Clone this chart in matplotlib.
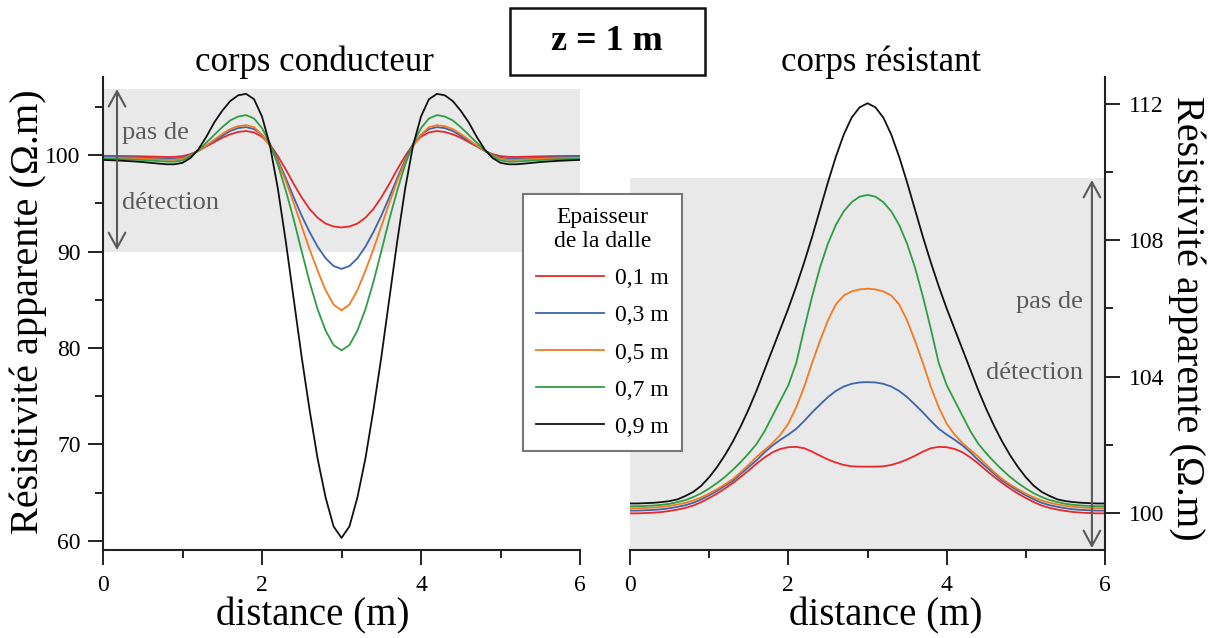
import numpy as np
import matplotlib
matplotlib.use("Agg")
import matplotlib.pyplot as plt
from matplotlib.patches import Rectangle
from matplotlib.ticker import MultipleLocator

plt.rcParams['font.family'] = ['Liberation Serif', 'DejaVu Serif']

# ---------------- data ----------------
distance = np.linspace(0, 6, 61)
labels = ["0,1 m", "0,3 m", "0,5 m", "0,7 m", "0,9 m"]
colors = ["#e8282b", "#3d64ad", "#f47a20", "#2e9e44", "#111111"]

cond_01 = [99.92, 99.92, 99.91, 99.90, 99.89, 99.87, 99.85, 99.83, 99.81, 99.82,
           99.90, 100.10, 100.45, 100.90, 101.35, 101.80, 102.15, 102.40, 102.50, 102.35,
           101.90, 101.10, 99.90, 98.50, 97.00, 95.60, 94.40, 93.50, 92.90, 92.60,
           92.50,
           92.60, 92.90, 93.50, 94.40, 95.60, 97.00, 98.50, 99.90, 101.10, 101.90,
           102.35, 102.50, 102.40, 102.15, 101.80, 101.35, 100.90, 100.45, 100.10, 99.90,
           99.82, 99.81, 99.83, 99.85, 99.87, 99.89, 99.90, 99.91, 99.92, 99.92]
cond_03 = [99.80, 99.79, 99.78, 99.77, 99.75, 99.73, 99.70, 99.67, 99.64, 99.64,
           99.74, 100.02, 100.45, 100.95, 101.50, 102.00, 102.50, 102.80, 102.90, 102.70,
           102.10, 101.10, 99.50, 97.60, 95.60, 93.70, 92.00, 90.50, 89.30, 88.50,
           88.20,
           88.50, 89.30, 90.50, 92.00, 93.70, 95.60, 97.60, 99.50, 101.10, 102.10,
           102.70, 102.90, 102.80, 102.50, 102.00, 101.50, 100.95, 100.45, 100.02, 99.74,
           99.64, 99.64, 99.67, 99.70, 99.73, 99.75, 99.77, 99.78, 99.79, 99.80]
cond_05 = [99.72, 99.71, 99.70, 99.68, 99.66, 99.63, 99.59, 99.55, 99.51, 99.51,
           99.62, 99.97, 100.45, 101.00, 101.60, 102.20, 102.70, 103.00, 103.10, 102.90,
           102.10, 100.90, 99.30, 97.30, 95.00, 92.60, 90.20, 88.00, 86.00, 84.50,
           83.90,
           84.50, 86.00, 88.00, 90.20, 92.60, 95.00, 97.30, 99.30, 100.90, 102.10,
           102.90, 103.10, 103.00, 102.70, 102.20, 101.60, 101.00, 100.45, 99.97, 99.62,
           99.51, 99.51, 99.55, 99.59, 99.63, 99.66, 99.68, 99.70, 99.71, 99.72]
cond_07 = [99.62, 99.60, 99.58, 99.56, 99.53, 99.49, 99.44, 99.38, 99.33, 99.32,
           99.45, 99.88, 100.50, 101.30, 102.10, 102.90, 103.60, 104.00, 104.15, 103.80,
           102.80, 101.20, 99.00, 96.30, 93.30, 90.00, 86.80, 84.00, 81.80, 80.30,
           79.75,
           80.30, 81.80, 84.00, 86.80, 90.00, 93.30, 96.30, 99.00, 101.20, 102.80,
           103.80, 104.15, 104.00, 103.60, 102.90, 102.10, 101.30, 100.50, 99.88, 99.45,
           99.32, 99.33, 99.38, 99.44, 99.49, 99.53, 99.56, 99.58, 99.60, 99.62]
cond_09 = [99.50, 99.47, 99.43, 99.39, 99.34, 99.28, 99.20, 99.12, 99.05, 99.05,
           99.20, 99.70, 100.60, 101.90, 103.40, 104.60, 105.60, 106.20, 106.35, 105.80,
           104.00, 101.00, 96.50, 91.00, 85.00, 79.00, 73.50, 68.50, 64.50, 61.50,
           60.30,
           61.50, 64.50, 68.50, 73.50, 79.00, 85.00, 91.00, 96.50, 101.00, 104.00,
           105.80, 106.35, 106.20, 105.60, 104.60, 103.40, 101.90, 100.60, 99.70, 99.20,
           99.05, 99.05, 99.12, 99.20, 99.28, 99.34, 99.39, 99.43, 99.47, 99.50]

res_01 = [99.99, 99.99, 100.00, 100.01, 100.03, 100.06, 100.10, 100.15, 100.22, 100.32,
          100.44, 100.57, 100.72, 100.88, 101.06, 101.25, 101.45, 101.63, 101.78, 101.88,
          101.93, 101.94, 101.90, 101.80, 101.68, 101.57, 101.48, 101.41, 101.37, 101.36,
          101.36,
          101.36, 101.37, 101.41, 101.48, 101.57, 101.68, 101.80, 101.90, 101.94, 101.93,
          101.88, 101.78, 101.63, 101.45, 101.25, 101.06, 100.88, 100.72, 100.57, 100.44,
          100.32, 100.22, 100.15, 100.10, 100.06, 100.03, 100.01, 100.00, 99.99, 99.99]
res_03 = [100.07, 100.07, 100.08, 100.09, 100.11, 100.14, 100.18, 100.23, 100.30, 100.40,
          100.52, 100.65, 100.80, 100.95, 101.15, 101.35, 101.55, 101.78, 101.98, 102.15,
          102.30, 102.47, 102.70, 102.95, 103.18, 103.40, 103.58, 103.71, 103.79, 103.83,
          103.84,
          103.83, 103.79, 103.71, 103.58, 103.40, 103.18, 102.95, 102.70, 102.47, 102.30,
          102.15, 101.98, 101.78, 101.55, 101.35, 101.15, 100.95, 100.80, 100.65, 100.52,
          100.40, 100.30, 100.23, 100.18, 100.14, 100.11, 100.09, 100.08, 100.07, 100.07]
res_05 = [100.14, 100.14, 100.15, 100.16, 100.18, 100.21, 100.25, 100.30, 100.37, 100.46,
          100.57, 100.70, 100.84, 101.00, 101.20, 101.42, 101.65, 101.85, 102.05, 102.30,
          102.62, 103.10, 103.70, 104.40, 105.05, 105.65, 106.12, 106.38, 106.50, 106.56,
          106.58,
          106.56, 106.50, 106.38, 106.12, 105.65, 105.05, 104.40, 103.70, 103.10, 102.62,
          102.30, 102.05, 101.85, 101.65, 101.42, 101.20, 101.00, 100.84, 100.70, 100.57,
          100.46, 100.37, 100.30, 100.25, 100.21, 100.18, 100.16, 100.15, 100.14, 100.14]
res_07 = [100.20, 100.20, 100.21, 100.22, 100.24, 100.27, 100.32, 100.38, 100.47, 100.58,
          100.72, 100.88, 101.06, 101.27, 101.50, 101.75, 102.03, 102.40, 102.85, 103.30,
          103.75, 104.40, 105.40, 106.35, 107.20, 107.90, 108.45, 108.85, 109.12, 109.28,
          109.33,
          109.28, 109.12, 108.85, 108.45, 107.90, 107.20, 106.35, 105.40, 104.40, 103.75,
          103.30, 102.85, 102.40, 102.03, 101.75, 101.50, 101.27, 101.06, 100.88, 100.72,
          100.58, 100.47, 100.38, 100.32, 100.27, 100.24, 100.22, 100.21, 100.20, 100.20]
res_09 = [100.28, 100.28, 100.29, 100.30, 100.32, 100.35, 100.40, 100.50, 100.62, 100.80,
          101.05, 101.35, 101.70, 102.10, 102.55, 103.05, 103.60, 104.20, 104.80, 105.40,
          106.00, 106.65, 107.35, 108.10, 108.90, 109.70, 110.45, 111.10, 111.60, 111.90,
          112.02,
          111.90, 111.60, 111.10, 110.45, 109.70, 108.90, 108.10, 107.35, 106.65, 106.00,
          105.40, 104.80, 104.20, 103.60, 103.05, 102.55, 102.10, 101.70, 101.35, 101.05,
          100.80, 100.62, 100.50, 100.40, 100.35, 100.32, 100.30, 100.29, 100.28, 100.28]

cond_series = [cond_01, cond_03, cond_05, cond_07, cond_09]
res_series = [res_01, res_03, res_05, res_07, res_09]

# ---------------- figure ----------------
W, H = 1212, 638
fig = plt.figure(figsize=(W / 100, H / 100), dpi=100)

def fx(px):
    return px / W

def fy(py):
    return 1 - py / H

axL = fig.add_axes([fx(103), fy(550), fx(580) - fx(103), fy(77) - fy(550)])
axR = fig.add_axes([fx(630), fy(550), fx(1105) - fx(630), fy(77) - fy(550)])

band = "#e9e9e9"
grey = "#5a5a5a"
lw = 1.3

# left panel
axL.set_xlim(0, 6)
axL.set_ylim(59.05, 108.1)
axL.axhspan(90, 106.9, color=band, zorder=0, lw=0)
handles = []
for s, c, lab in zip(cond_series, colors, labels):
    h, = axL.plot(distance, s, color=c, lw=lw, label=lab, solid_joinstyle='round')
    handles.append(h)

# right panel
axR.set_xlim(0, 6)
axR.set_ylim(98.915, 112.79)
axR.axhspan(98.0, 109.83, color=band, zorder=0, lw=0)
for s, c in zip(res_series, colors):
    axR.plot(distance, s, color=c, lw=lw, solid_joinstyle='round')

for ax in (axL, axR):
    ax.set_facecolor("none")
    ax.spines['top'].set_visible(False)
    ax.xaxis.set_major_locator(MultipleLocator(2))
    ax.xaxis.set_minor_locator(MultipleLocator(1))
    ax.tick_params(axis='both', which='major', direction='out', length=11, width=1.4,
                   labelsize=17, color='#222222')
    ax.tick_params(axis='both', which='minor', direction='out', length=5.5, width=1.4,
                   color='#222222')
    ax.tick_params(axis='x', which='major', pad=7)
    for sp in ax.spines.values():
        sp.set_linewidth(1.5)
        sp.set_color('#222222')

axL.spines['right'].set_visible(False)
axL.yaxis.set_major_locator(MultipleLocator(10))
axL.yaxis.set_minor_locator(MultipleLocator(5))
axL.tick_params(axis='y', which='major', pad=5)

axR.spines['left'].set_visible(False)
axR.yaxis.tick_right()
axR.yaxis.set_label_position('right')
axR.yaxis.set_major_locator(MultipleLocator(4))
axR.yaxis.set_minor_locator(MultipleLocator(2))
axR.tick_params(axis='y', which='both', left=False, right=True)
axR.tick_params(axis='y', which='major', pad=6)

# axis labels
axL.set_xlabel("distance (m)", fontsize=28)
axR.set_xlabel("distance (m)", fontsize=28)
axL.xaxis.set_label_coords((313 - 103) / 477, (550 - 597) / 473)
axR.xaxis.set_label_coords((886 - 630) / 475, (550 - 597) / 473)
axL.set_ylabel("Résistivité apparente (Ω.m)", fontsize=29, va='center')
axR.set_ylabel("Résistivité apparente (Ω.m)", fontsize=29, rotation=270, va='center')
axL.yaxis.set_label_coords((28 - 103) / 477, (550 - 312) / 473)
axR.yaxis.set_label_coords((1187 - 630) / 475, (550 - 318) / 473)

# detection arrows and texts
arrow_kw = dict(arrowstyle='<->,head_length=0.55,head_width=0.3', color=grey, lw=1.5,
                shrinkA=0, shrinkB=0, mutation_scale=20)
axL.annotate('', xy=(0.176, 106.85), xytext=(0.176, 90.15), arrowprops=arrow_kw,
             annotation_clip=False)
axL.text(0.24, 102.3, "pas de", fontsize=19, color=grey, ha='left', va='center')
axL.text(0.24, 95.0, "détection", fontsize=19, color=grey, ha='left', va='center')

axR.annotate('', xy=(5.835, 109.77), xytext=(5.835, 98.97), arrowprops=arrow_kw,
             annotation_clip=False)
axR.text(5.72, 106.2, "pas de", fontsize=19, color=grey, ha='right', va='center')
axR.text(5.72, 104.1, "détection", fontsize=19, color=grey, ha='right', va='center')

# titles
fig.text(fx(314), fy(62), "corps conducteur", fontsize=25, ha='center', va='center')
fig.text(fx(881), fy(62), "corps résistant", fontsize=25, ha='center', va='center')

# z = 1 m box
fig.patches.append(Rectangle((fx(510), fy(75)), fx(705) - fx(510), fy(8) - fy(75),
                             transform=fig.transFigure, facecolor='white',
                             edgecolor='#111111', lw=1.8))
fig.text(fx(607), fy(42), "z = 1 m", fontsize=26, fontweight='bold',
         ha='center', va='center')

# legend
leg = fig.legend(handles=handles, labels=labels, loc='upper left',
                 bbox_to_anchor=(fx(523), fy(194)), bbox_transform=fig.transFigure,
                 title="Epaisseur\nde la dalle", fontsize=17, title_fontsize=17,
                 frameon=True, fancybox=False, edgecolor='#777777',
                 handlelength=2.9, handletextpad=0.45, labelspacing=0.66,
                 borderpad=0.55, borderaxespad=0)
leg.get_frame().set_linewidth(1.5)
leg.get_frame().set_facecolor('white')
leg.get_frame().set_alpha(1)
leg.get_title().set_multialignment('center')
leg.set_zorder(10)

fig.savefig("out.png", dpi=100)
